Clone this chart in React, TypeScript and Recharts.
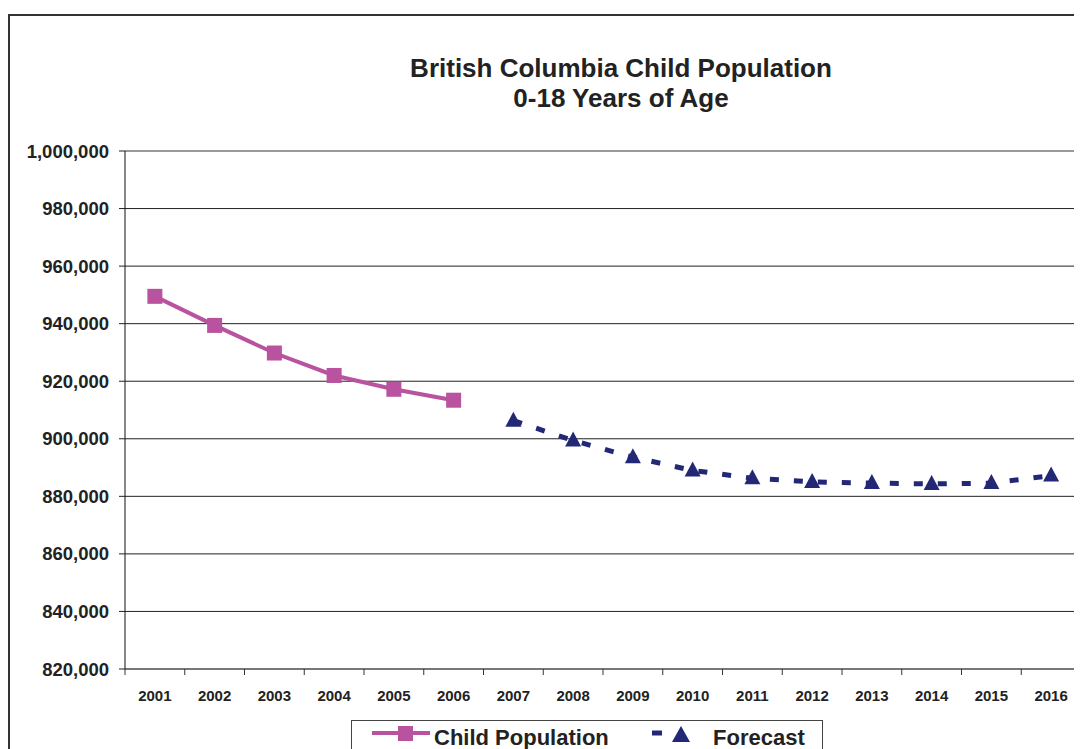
import { LineChart, Line, XAxis, YAxis, CartesianGrid, ReferenceLine } from 'recharts'

const years = [
  '2001', '2002', '2003', '2004', '2005', '2006', '2007', '2008',
  '2009', '2010', '2011', '2012', '2013', '2014', '2015', '2016',
]
const childPopulation = [949500, 939400, 929800, 922000, 917200, 913400]
const forecast = [906300, 899400, 893600, 889000, 886300, 885000, 884600, 884300, 884600, 887200]
const yTicks = [820000, 840000, 860000, 880000, 900000, 920000, 940000, 960000, 980000, 1000000]

const PINK = '#b9529f'
const NAVY = '#232876'
const FONT = '"Liberation Sans", Arial, sans-serif'
const TEXT = '#222'

const W = 1074
const H = 741
const PLOT_W = 956
const HALF = PLOT_W / years.length / 2

const data = years.map((year, i) => ({
  year,
  child: i < childPopulation.length ? childPopulation[i] : null,
  forecast: i >= childPopulation.length ? forecast[i - childPopulation.length] : null,
}))

const SquareDot = (p: any) => {
  if (p.cx == null || p.cy == null || p.value == null) return <g key={p.index} />
  return <rect key={p.index} x={p.cx - 7.5} y={p.cy - 7.5} width={15} height={15} fill={PINK} />
}

const TriangleDot = (p: any) => {
  if (p.cx == null || p.cy == null || p.value == null) return <g key={p.index} />
  const { cx, cy } = p
  return (
    <polygon
      key={p.index}
      points={`${cx},${cy - 9} ${cx + 8},${cy + 6} ${cx - 8},${cy + 6}`}
      fill={NAVY}
    />
  )
}

// Excel style: labels centred in the category, tick marks on the boundaries
const YearTick = (props: any) => {
  const { x, y, payload, index } = props
  const axisY = y - 21
  return (
    <g>
      <line x1={x - HALF} x2={x - HALF} y1={axisY} y2={axisY + 6} stroke="#333" />
      {index === years.length - 1 && (
        <line x1={x + HALF} x2={x + HALF} y1={axisY} y2={axisY + 6} stroke="#333" />
      )}
      <text x={x} y={y} dy="0.71em" textAnchor="middle" fontSize={15} fontWeight="bold" fill={TEXT} fontFamily={FONT}>
        {payload.value}
      </text>
    </g>
  )
}

function LegendBox() {
  return (
    <div
      style={{
        position: 'absolute',
        left: 343,
        top: 712,
        width: 472,
        height: 40,
        border: '1.5px solid #444',
        boxSizing: 'border-box',
        background: '#fff',
      }}
    >
      <svg width={472} height={40} style={{ display: 'block', position: 'absolute', left: -1.5, top: -1.5 }}>
        <line x1={21} x2={79} y1={13} y2={13} stroke={PINK} strokeWidth={4} />
        <rect x={47} y={6} width={15} height={15} fill={PINK} />
        <text x={83} y={25} fontSize={22} fontWeight="bold" fill={TEXT} fontFamily={FONT}>
          Child Population
        </text>
        <line x1={301} x2={311} y1={13} y2={13} stroke={NAVY} strokeWidth={5} />
        <polygon points="330,6 339,22 321,22" fill={NAVY} />
        <text x={362} y={25} fontSize={22} fontWeight="bold" fill={TEXT} fontFamily={FONT}>
          Forecast
        </text>
      </svg>
    </div>
  )
}

export default function App() {
  return (
    <div style={{ position: 'relative', width: W, height: H, overflow: 'hidden', background: '#fff', fontFamily: FONT }}>
      <div
        style={{
          position: 'absolute',
          left: 0,
          top: 6,
          width: 1200,
          height: 900,
          border: '2px solid #333',
          boxSizing: 'border-box',
        }}
      />
      <div
        style={{
          position: 'absolute',
          left: 313,
          top: 45,
          width: 600,
          textAlign: 'center',
          fontSize: 26,
          lineHeight: '30px',
          fontWeight: 'bold',
          color: TEXT,
        }}
      >
        British Columbia Child Population
        <br />
        0-18 Years of Age
      </div>
      <div style={{ position: 'absolute', left: 0, top: 0 }}>
        <LineChart width={W} height={H} data={data} margin={{ top: 143, right: 1, bottom: 50, left: 0 }}>
          <CartesianGrid vertical={false} stroke="#222" />
          <XAxis
            dataKey="year"
            padding={{ left: HALF, right: HALF }}
            height={30}
            interval={0}
            tickLine={false}
            tickSize={6}
            tickMargin={15}
            axisLine={{ stroke: '#777', strokeWidth: 2 }}
            tick={<YearTick />}
          />
          <YAxis
            width={117}
            domain={[820000, 1000000]}
            ticks={yTicks}
            interval={0}
            tickSize={6}
            tickMargin={10}
            tickLine={{ stroke: '#222' }}
            axisLine={{ stroke: '#111' }}
            tickFormatter={(v: number) => v.toLocaleString('en-US')}
            tick={{ fontSize: 18.5, fontWeight: 'bold', fill: TEXT, fontFamily: FONT }}
          />
          <YAxis
            yAxisId="right"
            orientation="right"
            width={0}
            domain={[820000, 1000000]}
            tick={false}
            tickLine={false}
            axisLine={{ stroke: '#aaa', strokeWidth: 1.5 }}
          />
          <ReferenceLine y={1000000} stroke="#999" strokeWidth={2} />
          <Line
            dataKey="child"
            stroke={PINK}
            strokeWidth={4}
            dot={SquareDot}
            activeDot={false}
            isAnimationActive={false}
          />
          <Line
            dataKey="forecast"
            stroke={NAVY}
            strokeWidth={5}
            strokeDasharray="9 15"
            dot={TriangleDot}
            activeDot={false}
            isAnimationActive={false}
          />
        </LineChart>
      </div>
      <LegendBox />
    </div>
  )
}
